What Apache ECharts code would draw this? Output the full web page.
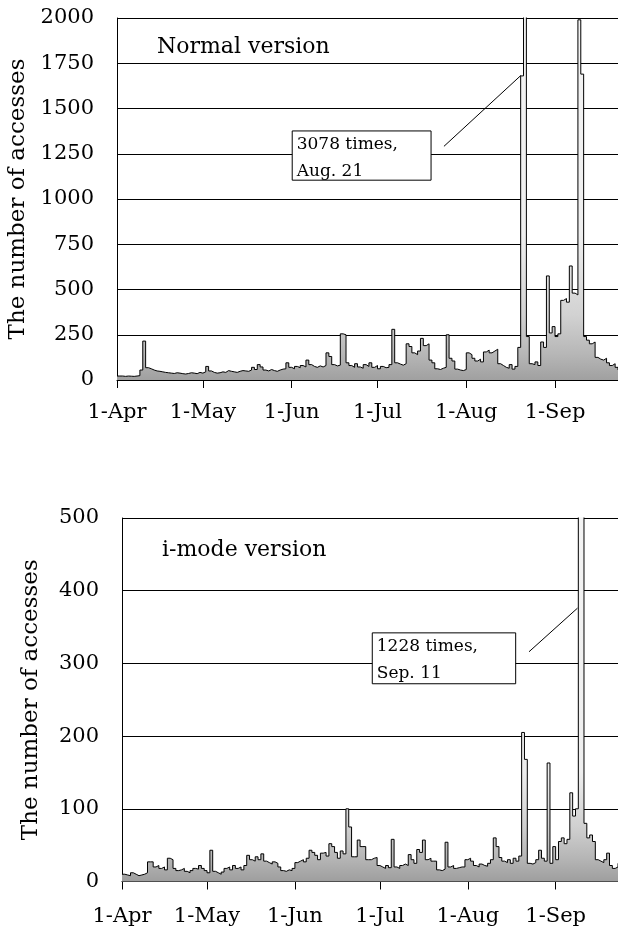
<!DOCTYPE html>
<html>
<head>
<meta charset="utf-8">
<script src="https://cdn.jsdelivr.net/npm/echarts@6/dist/echarts.min.js"></script>
<style>
html,body{margin:0;padding:0;background:#fff;}
#chart{width:618px;height:936px;}
</style>
</head>
<body>
<div id="chart"></div>
<script>
// ---- Data (daily accesses, day 0 = 1-Apr) ----
const tickDays = [0, 30, 61, 91, 122, 153];
const tickLabels = ['1-Apr', '1-May', '1-Jun', '1-Jul', '1-Aug', '1-Sep'];

const normalAccesses = [
  22, 22, 20, 22, 21, 20, 22, 24, 55, 215,
  68, 62, 55, 50, 48, 45, 42, 40, 38, 36,
  40, 38, 35, 33, 36, 40, 38, 35, 42, 38,
  45, 75, 50, 42, 38, 40, 45, 42, 52, 48,
  45, 42, 48, 52, 50, 48, 55, 70, 58, 85,
  72, 55, 50, 58, 52, 48, 55, 60, 62, 95,
  70, 62, 75, 68, 80, 72, 110, 85, 75, 70,
  78, 72, 80, 150, 130, 85, 78, 82, 255, 250,
  95, 80, 70, 90, 72, 65, 85, 75, 95, 70,
  80, 62, 75, 68, 70, 85, 280, 95, 88, 82,
  90, 200, 185, 150, 140, 160, 230, 190, 200, 110,
  95, 62, 58, 65, 70, 250, 120, 105, 60, 55,
  52, 58, 150, 140, 120, 105, 115, 100, 155, 165,
  150, 160, 170, 90, 80, 70, 65, 85, 60, 75,
  180, 1680, 3078, 240, 90, 85, 100, 80, 210, 180,
  575, 260, 295, 240, 255, 440, 450, 430, 630, 480,
  470, 1990, 1690, 240, 220, 200, 210, 125, 115, 110,
  120, 95, 80, 90, 70, 55
];

const imodeAccesses = [
  10, 9, 8, 12, 10, 8, 9, 10, 12, 27,
  27, 20, 22, 18, 20, 16, 32, 30, 18, 15,
  16, 18, 14, 12, 15, 18, 17, 22, 18, 15,
  12, 43, 14, 12, 10, 13, 18, 20, 16, 22,
  18, 20, 16, 22, 36, 30, 28, 34, 30, 38,
  28, 26, 24, 27, 25, 20, 15, 14, 16, 15,
  18, 26, 28, 30, 27, 32, 43, 40, 36, 30,
  39, 40, 35, 52, 48, 40, 32, 42, 38, 100,
  75, 34, 34, 57, 48, 48, 30, 30, 32, 33,
  22, 20, 18, 22, 19, 58, 20, 18, 22, 24,
  22, 37, 30, 25, 44, 40, 57, 30, 32, 28,
  28, 16, 15, 17, 54, 20, 22, 18, 19, 20,
  20, 30, 32, 28, 22, 20, 24, 22, 21, 25,
  30, 60, 48, 33, 28, 26, 30, 25, 32, 28,
  35, 205, 168, 25, 24, 26, 30, 43, 32, 28,
  163, 25, 48, 30, 55, 60, 52, 58, 122, 90,
  100, 540, 1228, 80, 60, 64, 55, 30, 28, 26,
  30, 39, 22, 18, 20, 25
];

const panelTitles = ['Normal version', 'i-mode version'];
const yAxisName = 'The number of accesses';
const normalNote = '3078 times,\nAug. 21';
const imodeNote = '1228 times,\nSep. 11';

// ---- Chart ----
const FONT = 'DejaVu Serif';
const lastDay = normalAccesses.length - 1;

function toPoints(arr) {
  const pts = arr.map((v, i) => [i, v]);
  pts.push([arr.length, arr[arr.length - 1]]); // close last step
  return pts;
}

function xAxisCfg(gridIndex, margin) {
  return {
    type: 'value', gridIndex, min: 0, max: lastDay,
    axisLine: { show: true, lineStyle: { color: '#000', width: 1 } },
    axisTick: { show: true, customValues: tickDays, length: 8, inside: false, lineStyle: { color: '#000', width: 1 } },
    axisLabel: {
      customValues: tickDays, margin, color: '#000', fontFamily: FONT, fontSize: 21,
      formatter: v => { const k = tickDays.indexOf(v); return k >= 0 ? tickLabels[k] : ''; }
    },
    splitLine: { show: false }
  };
}

function yAxisCfg(gridIndex, max, interval, gap) {
  return {
    type: 'value', gridIndex, min: 0, max, interval,
    name: yAxisName, nameLocation: 'middle', nameGap: gap,
    nameTextStyle: { fontFamily: FONT, fontSize: 23, color: '#000' },
    axisLine: { show: true, lineStyle: { color: '#000', width: 1 } },
    axisTick: { show: false },
    axisLabel: { margin: 23, color: '#000', fontFamily: FONT, fontSize: 21, formatter: v => String(v) },
    splitLine: { show: true, lineStyle: { color: '#000', width: 1 } }
  };
}

function fill(y0, y1, stops) {
  return {
    type: 'linear', x: 0, y: y0, x2: 0, y2: y1, global: true,
    colorStops: stops
  };
}

const chart = echarts.init(document.getElementById('chart'), null, { renderer: 'canvas' });
chart.setOption({
  backgroundColor: '#fff',
  animation: false,
  title: [
    { text: panelTitles[0], left: 157, top: 36, padding: 0,
      textStyle: { fontFamily: FONT, fontSize: 22, fontWeight: 'normal', color: '#000' } },
    { text: panelTitles[1], left: 162, top: 539, padding: 0,
      textStyle: { fontFamily: FONT, fontSize: 22, fontWeight: 'normal', color: '#000' } }
  ],
  grid: [
    { left: 117, top: 18, right: 0, height: 362, containLabel: false, outerBoundsMode: 'none' },
    { left: 122, top: 518, right: 0, height: 363.5, containLabel: false, outerBoundsMode: 'none' }
  ],
  xAxis: [xAxisCfg(0, 22), xAxisCfg(1, 25)],
  yAxis: [yAxisCfg(0, 2000, 250, 86), yAxisCfg(1, 500, 100, 79)],
  series: [
    {
      type: 'line', xAxisIndex: 0, yAxisIndex: 0, step: 'end', symbol: 'none',
      data: toPoints(normalAccesses), clip: true,
      lineStyle: { color: '#000', width: 1 },
      areaStyle: { opacity: 1, color: fill(18, 380, [
        { offset: 0, color: '#f3f3f3' }, { offset: 0.6, color: '#eeeeee' },
        { offset: 0.82, color: '#d2d2d2' }, { offset: 0.93, color: '#b6b6b6' }, { offset: 1, color: '#a0a0a0' }
      ]) },
      markArea: {
        silent: true,
        itemStyle: { color: '#fff', borderColor: '#000', borderWidth: 1 },
        label: { show: true, position: 'insideTopLeft', distance: 0, padding: [1, 0, 0, 5],
          fontFamily: FONT, fontSize: 17, lineHeight: 27, color: '#000', formatter: normalNote },
        data: [[{ coord: [61.2, 1376] }, { coord: [109.7, 1104] }]]
      },
      markLine: {
        silent: true, symbol: ['none', 'none'], label: { show: false },
        lineStyle: { color: '#000', width: 1, type: 'solid' },
        data: [[{ coord: [114.2, 1291] }, { coord: [141.1, 1683] }]]
      }
    },
    {
      type: 'line', xAxisIndex: 1, yAxisIndex: 1, step: 'end', symbol: 'none',
      data: toPoints(imodeAccesses), clip: true,
      lineStyle: { color: '#000', width: 1 },
      areaStyle: { opacity: 1, color: fill(518, 881.5, [
        { offset: 0, color: '#f3f3f3' }, { offset: 0.7, color: '#eeeeee' },
        { offset: 0.85, color: '#d0d0d0' }, { offset: 0.94, color: '#b4b4b4' }, { offset: 1, color: '#9e9e9e' }
      ]) },
      markArea: {
        silent: true,
        itemStyle: { color: '#fff', borderColor: '#000', borderWidth: 1 },
        label: { show: true, position: 'insideTopLeft', distance: 0, padding: [1, 0, 0, 5],
          fontFamily: FONT, fontSize: 17, lineHeight: 27, color: '#000', formatter: imodeNote },
        data: [[{ coord: [88.3, 342] }, { coord: [138.9, 272] }]]
      },
      markLine: {
        silent: true, symbol: ['none', 'none'], label: { show: false },
        lineStyle: { color: '#000', width: 1, type: 'solid' },
        data: [[{ coord: [143.6, 316] }, { coord: [160.7, 376] }]]
      }
    }
  ]
});
</script>
</body>
</html>
